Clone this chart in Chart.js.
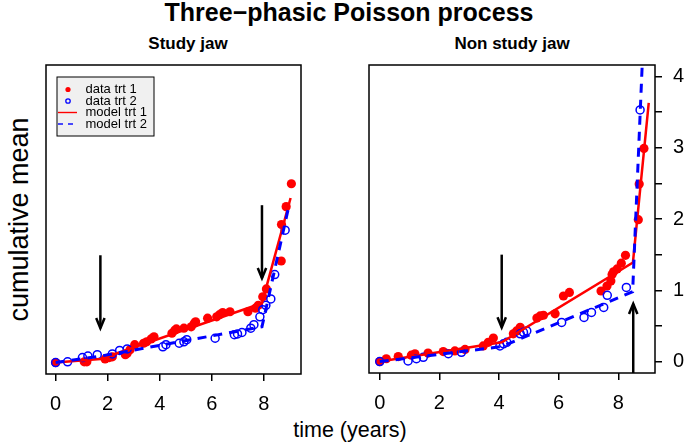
<!DOCTYPE html>
<html>
<head>
<meta charset="utf-8">
<script src="https://cdn.jsdelivr.net/npm/chart.js@4.4.0/dist/chart.umd.min.js"></script>
<style>
body { margin:0; background:#fff; width:685px; height:443px; overflow:hidden; position:relative; font-family:'Liberation Sans', Arial, sans-serif; }
canvas { position:absolute; top:0; }
.txt { position:absolute; white-space:nowrap; color:#000; transform:translateX(-50%); }
</style>
</head>
<body>
<div class="txt" style="left:349px;top:0px;font-size:25px;line-height:25px;font-weight:bold">Three−phasic Poisson process</div>
<div class="txt" style="left:188px;top:35px;font-size:17px;line-height:17px;font-weight:bold">Study jaw</div>
<div class="txt" style="left:512px;top:35px;font-size:17px;line-height:17px;font-weight:bold">Non study jaw</div>
<div class="txt" style="left:350px;top:420px;font-size:21.5px;line-height:21.5px">time (years)</div>
<div class="txt" style="left:19px;top:206px;font-size:27px;line-height:27px;transform:translateX(-50%) rotate(-90deg)">cumulative mean</div>
<canvas id="leftChart" width="345" height="443" style="left:0"></canvas>
<canvas id="rightChart" width="340" height="443" style="left:345px"></canvas>
<script>
// tick labels
var xTicks = [0, 2, 4, 6, 8];
var yTicks = [0, 0.5, 1, 1.5, 2, 2.5, 3, 3.5, 4];
var yTickLabels = ['0', '', '1', '', '2', '', '3', '', '4'];

// Study jaw
var studyRedT = [0, 1.1, 1.2, 1.9, 2.06, 2.18, 2.68, 2.75, 2.86, 3.04, 3.38, 3.5, 3.67, 3.78, 4.47, 4.58, 4.64, 4.93, 5.21, 5.33, 5.38, 5.84, 6.19, 6.3, 6.42, 6.7, 7.39, 7.68, 7.79, 7.96, 8.1, 8.67, 8.68, 8.86, 9.06];
var studyRedV = [0, 0.01, 0.01, 0.05, 0.07, 0.08, 0.11, 0.13, 0.18, 0.25, 0.27, 0.29, 0.33, 0.36, 0.41, 0.45, 0.47, 0.48, 0.50, 0.55, 0.57, 0.62, 0.64, 0.67, 0.70, 0.71, 0.71, 0.76, 0.80, 0.92, 1.03, 1.42, 1.93, 2.18, 2.50];
var studyBlueT = [0, 0.46, 1.03, 1.24, 1.6, 2.18, 2.46, 2.75, 4.12, 4.24, 4.75, 4.93, 5.04, 6.13, 6.87, 6.99, 7.16, 7.5, 7.62, 7.85, 7.96, 8.08, 8.27, 8.42, 8.82];
var studyBlueV = [0, 0.01, 0.07, 0.09, 0.11, 0.12, 0.17, 0.19, 0.22, 0.25, 0.27, 0.29, 0.32, 0.34, 0.39, 0.40, 0.42, 0.48, 0.53, 0.64, 0.74, 0.80, 0.89, 1.23, 1.85];
var studyModelRedT = [0, 1.72, 7.93, 9.03];
var studyModelRedV = [0, 0.05, 0.83, 2.3];
var studyModelBlueT = [0, 1.72, 7.93, 8.94];
var studyModelBlueV = [0, 0.09, 0.50, 2.15];
var studyArrowT = [1.72, 7.93];
var studyArrowFrom = [1.5, 2.2];
var studyArrowTo = [0.48, 1.18];

// Non study jaw
var nonRedT = [0, 0.22, 0.62, 1.06, 1.18, 1.62, 2.13, 2.52, 2.86, 3.47, 3.64, 3.81, 4.48, 4.59, 4.71, 5.27, 5.38, 5.49, 5.88, 6.16, 6.36, 7.42, 7.62, 7.75, 7.79, 7.84, 7.96, 8.1, 8.24, 8.67, 8.70, 8.86];
var nonRedV = [0, 0.04, 0.07, 0.09, 0.11, 0.12, 0.14, 0.15, 0.17, 0.22, 0.27, 0.33, 0.39, 0.43, 0.48, 0.61, 0.64, 0.65, 0.67, 0.92, 0.97, 0.99, 1.06, 1.13, 1.22, 1.26, 1.30, 1.38, 1.49, 1.99, 2.49, 2.99];
var nonBlueT = [0, 0.95, 1.23, 1.46, 2.3, 2.74, 4.03, 4.15, 4.26, 4.71, 4.82, 4.93, 6.1, 6.85, 7.1, 7.51, 7.63, 8.27, 8.73];
var nonBlueV = [0, 0.01, 0.04, 0.06, 0.11, 0.13, 0.22, 0.25, 0.27, 0.39, 0.41, 0.43, 0.55, 0.62, 0.69, 0.76, 0.93, 1.04, 3.53];
var nonModelRedT = [0, 4.09, 8.49, 9.02];
var nonModelRedV = [0, 0.27, 1.39, 3.63];
var nonModelBlueT = [0, 4.09, 8.48, 8.815];
var nonModelBlueV = [0, 0.21, 0.98, 4.3];
var nonArrowT = [4.09, 8.5];
var nonArrowFrom = [1.5, -0.16];
var nonArrowTo = [0.48, 0.81];

function pts(t, v) {
  return t.map(function(x, i) { return {x: x, y: v[i]}; });
}

function drawArrow(ctx, x, y0, y1) {
  var dir = y1 > y0 ? 1 : -1;
  var len = 11, ang = Math.PI / 8;
  ctx.beginPath();
  ctx.moveTo(x, y0);
  ctx.lineTo(x, y1);
  ctx.stroke();
  ctx.beginPath();
  ctx.moveTo(x - len * Math.sin(ang), y1 - dir * len * Math.cos(ang));
  ctx.lineTo(x, y1);
  ctx.lineTo(x + len * Math.sin(ang), y1 - dir * len * Math.cos(ang));
  ctx.stroke();
}

var arrowPlugin = {
  id: 'arrows',
  afterDatasetsDraw: function(chart, args, opts) {
    var ctx = chart.ctx, xs = chart.scales.x, ys = chart.scales.y;
    ctx.save();
    ctx.strokeStyle = '#000';
    ctx.lineWidth = 2.5;
    ctx.lineCap = 'butt';
    ctx.lineJoin = 'miter';
    opts.t.forEach(function(t, i) {
      drawArrow(ctx, xs.getPixelForValue(t), ys.getPixelForValue(opts.from[i]), ys.getPixelForValue(opts.to[i]));
    });
    ctx.restore();
  }
};

var boxPlugin = {
  id: 'box',
  afterDraw: function(chart) {
    var a = chart.chartArea, ctx = chart.ctx;
    ctx.save();
    ctx.strokeStyle = '#000';
    ctx.lineWidth = 1.5;
    ctx.strokeRect(a.left, a.top, a.right - a.left, a.bottom - a.top);
    ctx.restore();
  }
};

var legendPlugin = {
  id: 'boxLegend',
  afterDraw: function(chart, args, opts) {
    if (!opts.show) return;
    var ctx = chart.ctx;
    var labels = ['data trt 1', 'data trt 2', 'model trt 1', 'model trt 2'];
    var rows = [89.5, 101, 112.5, 124];
    ctx.save();
    ctx.fillStyle = '#f0f0f0';
    ctx.fillRect(57, 77, 97, 59);
    ctx.strokeStyle = '#000';
    ctx.lineWidth = 1;
    ctx.strokeRect(57, 77, 97, 59);
    // symbols
    ctx.fillStyle = '#ff0000';
    ctx.beginPath(); ctx.arc(68, rows[0], 2.6, 0, 2 * Math.PI); ctx.fill();
    ctx.strokeStyle = '#0000ff';
    ctx.lineWidth = 1.3;
    ctx.beginPath(); ctx.arc(68, rows[1], 2.2, 0, 2 * Math.PI); ctx.stroke();
    ctx.strokeStyle = '#ff0000';
    ctx.lineWidth = 1.4;
    ctx.beginPath(); ctx.moveTo(58, rows[2]); ctx.lineTo(77, rows[2]); ctx.stroke();
    ctx.strokeStyle = '#0000ff';
    ctx.setLineDash([5, 5]);
    ctx.beginPath(); ctx.moveTo(58, rows[3]); ctx.lineTo(75, rows[3]); ctx.stroke();
    ctx.setLineDash([]);
    ctx.fillStyle = '#000';
    ctx.font = '13px "Liberation Sans", Arial, sans-serif';
    ctx.textBaseline = 'middle';
    labels.forEach(function(l, i) { ctx.fillText(l, 85.5, rows[i]); });
    ctx.restore();
  }
};

function makePanel(id, d) {
  var ctx = document.getElementById(id).getContext('2d');
  return new Chart(ctx, {
    type: 'scatter',
    data: {
      datasets: [
        { data: pts(d.mbT, d.mbV), showLine: true, borderColor: '#0000ff', borderWidth: 3, borderDash: [9, 7], pointRadius: 0, order: 0 },
        { data: pts(d.mrT, d.mrV), showLine: true, borderColor: '#ff0000', borderWidth: 2.5, pointRadius: 0, order: 1 },
        { data: pts(d.bT, d.bV), showLine: false, pointRadius: 4, pointBorderWidth: 1.5, pointBorderColor: '#0000ff', pointBackgroundColor: 'rgba(0,0,0,0)', order: 2 },
        { data: pts(d.rT, d.rV), showLine: false, pointRadius: 4.6, pointBorderWidth: 0, pointBackgroundColor: '#ff0000', pointBorderColor: '#ff0000', order: 3 }
      ]
    },
    options: {
      responsive: false,
      animation: false,
      layout: { padding: d.padding },
      plugins: {
        legend: { display: false },
        tooltip: { enabled: false },
        arrows: d.arrows,
        boxLegend: { show: d.legend }
      },
      scales: {
        x: {
          type: 'linear',
          min: d.xMin, max: d.xMax,
          afterBuildTicks: function(s) { s.ticks = xTicks.map(function(v) { return {value: v}; }); },
          afterFit: function(s) { s.height = d.xHeight; },
          grid: { drawOnChartArea: false, drawTicks: true, tickLength: 7, color: '#000', lineWidth: 1.5 },
          border: { display: false },
          ticks: { color: '#000', font: { size: 20 }, padding: 11, maxRotation: 0 }
        },
        y: {
          type: 'linear',
          display: d.showY,
          position: 'right',
          min: -0.16, max: 4.16,
          afterBuildTicks: function(s) { s.ticks = yTicks.map(function(v) { return {value: v}; }); },
          afterFit: function(s) { s.width = 30; },
          grid: { drawOnChartArea: false, drawTicks: true, tickLength: 7, color: '#000', lineWidth: 1.5 },
          border: { display: false },
          ticks: { color: '#000', font: { size: 20 }, padding: 11, callback: function(v, i) { return yTickLabels[i]; } }
        }
      }
    },
    plugins: [arrowPlugin, boxPlugin, legendPlugin]
  });
}

Chart.defaults.font.family = '"Liberation Sans", Arial, sans-serif';

makePanel('leftChart', {
  rT: studyRedT, rV: studyRedV, bT: studyBlueT, bV: studyBlueV,
  mrT: studyModelRedT, mrV: studyModelRedV, mbT: studyModelBlueT, mbV: studyModelBlueV,
  arrows: { t: studyArrowT, from: studyArrowFrom, to: studyArrowTo },
  legend: true, showY: false,
  xMin: -0.37, xMax: 9.43, xHeight: 69,
  padding: { left: 46, right: 14, top: 65, bottom: 0 }
});

makePanel('rightChart', {
  rT: nonRedT, rV: nonRedV, bT: nonBlueT, bV: nonBlueV,
  mrT: nonModelRedT, mrV: nonModelRedV, mbT: nonModelBlueT, mbV: nonModelBlueV,
  arrows: { t: nonArrowT, from: nonArrowFrom, to: nonArrowTo },
  legend: false, showY: true,
  xMin: -0.36, xMax: 9.23, xHeight: 70,
  padding: { left: 24, right: 0, top: 65, bottom: 0 }
});
</script>
</body>
</html>
